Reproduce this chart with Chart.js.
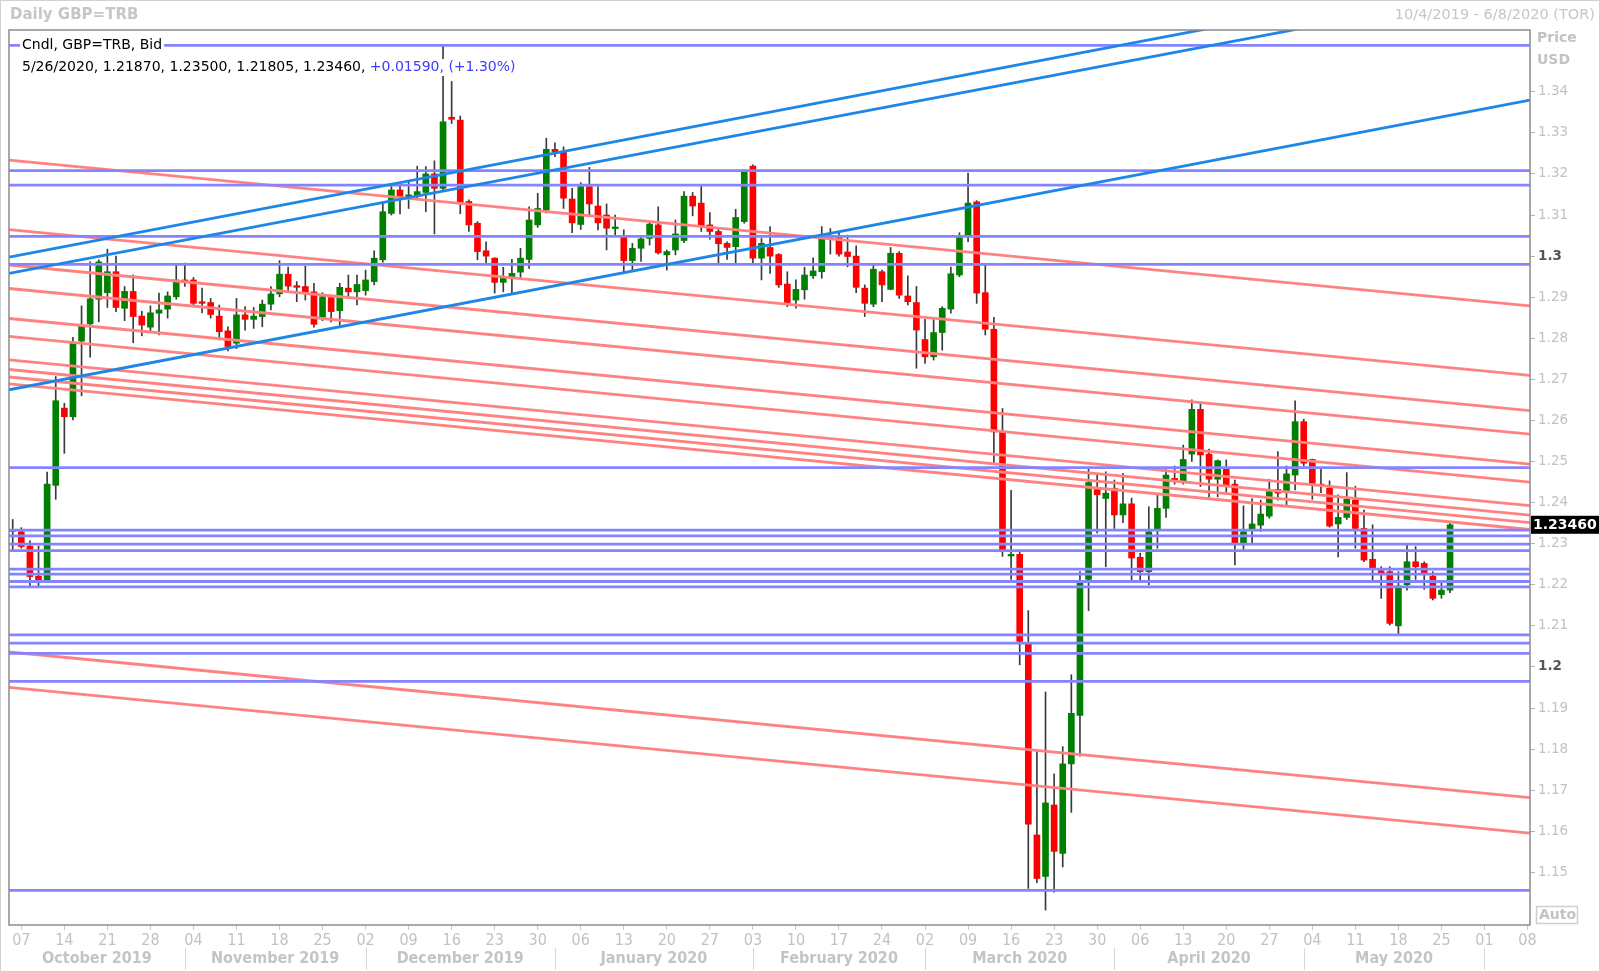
<!DOCTYPE html>
<html>
<head>
<meta charset="utf-8">
<title>Daily GBP=TRB</title>
<script src="https://cdn.jsdelivr.net/npm/chart.js@4.4.1/dist/chart.umd.min.js"></script>
<style>
    html, body { margin: 0; padding: 0; background: #fff; }
    #wrap { width: 1600px; height: 972px; }
</style>
</head>
<body>
<div id="wrap"><canvas id="fxChart" width="1600" height="972"></canvas></div>
<script>
// slot 0 = Mon 07 Oct 2019, one slot per weekday; first candle is Fri 04 Oct
const firstSlot = -1;

const opens = [
    1.2334, 1.2329, 1.2294, 1.2221, 1.2210, 1.2442, 1.2630, 1.2609, 1.2793, 1.2835,
    1.2895, 1.2911, 1.2962, 1.2873, 1.2914, 1.2854, 1.2827, 1.2861, 1.2871, 1.2901,
    1.2942, 1.2942, 1.2888, 1.2887, 1.2854, 1.2818, 1.2788, 1.2857, 1.2846, 1.2853,
    1.2883, 1.2908, 1.2956, 1.2928, 1.2926, 1.2913, 1.2851, 1.2899, 1.2867, 1.2922,
    1.2913, 1.2916, 1.2938, 1.2991, 1.3104, 1.3161, 1.3145, 1.3147, 1.3155, 1.3200,
    1.3165, 1.3338, 1.3331, 1.3133, 1.3080, 1.3013, 1.2995, 1.2936, 1.2946, 1.2961,
    1.2992, 1.3076, 1.3112, 1.3260, 1.3254, 1.3139, 1.3077, 1.3169, 1.3122, 1.3100,
    1.3068, 1.3046, 1.2989, 1.3019, 1.3043, 1.3076, 1.3003, 1.3015, 1.3038, 1.3146,
    1.3129, 1.3076, 1.3060, 1.3031, 1.3023, 1.3084, 1.3219, 1.2995, 1.3021, 1.3004,
    1.2932, 1.2893, 1.2918, 1.2952, 1.2962, 1.3041, 1.3046, 1.3010, 1.3000, 1.2922,
    1.2883, 1.2962, 1.2919, 1.3007, 1.2903, 1.2887, 1.2797, 1.2755, 1.2814, 1.2871,
    1.2954, 1.3051, 1.3132, 1.2911, 1.2822, 1.2572, 1.2270, 1.2274, 1.2057, 1.1591,
    1.1490, 1.1664, 1.1546, 1.1764, 1.1882, 1.2213, 1.2432, 1.2410, 1.2435, 1.2370,
    1.2397, 1.2267, 1.2232, 1.2333, 1.2386, 1.2459, 1.2451, 1.2518, 1.2627, 1.2518,
    1.2457, 1.2481, 1.2445, 1.2299, 1.2335, 1.2345, 1.2367, 1.2432, 1.2429, 1.2467,
    1.2597, 1.2505, 1.2445, 1.2435, 1.2348, 1.2364, 1.2406, 1.2337, 1.2262, 1.2234,
    1.2232, 1.2100, 1.2200, 1.2256, 1.2252, 1.2221, 1.2176, 1.2187
];
const highs = [
    1.2359, 1.2339, 1.2307, 1.2294, 1.2474, 1.2707, 1.2642, 1.2802, 1.2879, 1.2986,
    1.2991, 1.3017, 1.3000, 1.2926, 1.2954, 1.2866, 1.2879, 1.2910, 1.2913, 1.2978,
    1.2983, 1.2948, 1.2922, 1.2897, 1.2881, 1.2828, 1.2897, 1.2877, 1.2875, 1.2893,
    1.2926, 1.2989, 1.2973, 1.2938, 1.2976, 1.2934, 1.2911, 1.2905, 1.2934, 1.2954,
    1.2954, 1.2966, 1.3013, 1.3129, 1.3173, 1.3171, 1.3181, 1.3219, 1.3218, 1.3232,
    1.3512, 1.3425, 1.3341, 1.3137, 1.3084, 1.3035, 1.2996, 1.2973, 1.2992, 1.3019,
    1.3120, 1.3153, 1.3287, 1.3276, 1.3266, 1.3165, 1.3179, 1.3216, 1.3169, 1.3127,
    1.3100, 1.3064, 1.3031, 1.3047, 1.3084, 1.3120, 1.3015, 1.3088, 1.3157, 1.3155,
    1.3171, 1.3106, 1.3068, 1.3035, 1.3114, 1.3210, 1.3222, 1.3043, 1.3072, 1.3006,
    1.2962, 1.2942, 1.2973, 1.2996, 1.3072, 1.3067, 1.3056, 1.3051, 1.3025, 1.2930,
    1.2978, 1.2966, 1.3021, 1.3011, 1.2952, 1.2926, 1.2846, 1.2846, 1.2877, 1.2973,
    1.3057, 1.3202, 1.3135, 1.2978, 1.2851, 1.2629, 1.2430, 1.2279, 1.2137, 1.1797,
    1.1939, 1.1740, 1.1806, 1.1981, 1.2232, 1.2485, 1.2467, 1.2475, 1.2455, 1.2471,
    1.2411, 1.2277, 1.2390, 1.2419, 1.2481, 1.2489, 1.2540, 1.2650, 1.2643, 1.2530,
    1.2504, 1.2504, 1.2455, 1.2392, 1.2410, 1.2406, 1.2457, 1.2524, 1.2489, 1.2648,
    1.2603, 1.2506, 1.2481, 1.2453, 1.2419, 1.2473, 1.2440, 1.2382, 1.2346, 1.2244,
    1.2244, 1.2232, 1.2297, 1.2293, 1.2256, 1.2232, 1.2204, 1.2350
];
const lows = [
    1.2285, 1.2289, 1.2197, 1.2197, 1.2205, 1.2408, 1.2520, 1.2601, 1.2660, 1.2754,
    1.2840, 1.2875, 1.2865, 1.2843, 1.2789, 1.2806, 1.2814, 1.2808, 1.2849, 1.2895,
    1.2926, 1.2879, 1.2862, 1.2849, 1.2796, 1.2769, 1.2775, 1.2820, 1.2824, 1.2828,
    1.2869, 1.2901, 1.2913, 1.2889, 1.2893, 1.2827, 1.2843, 1.2840, 1.2832, 1.2897,
    1.2881, 1.2905, 1.2930, 1.2985, 1.3100, 1.3103, 1.3116, 1.3137, 1.3108, 1.3054,
    1.3160, 1.3323, 1.3103, 1.3060, 1.2991, 1.2982, 1.2910, 1.2913, 1.2910, 1.2948,
    1.2970, 1.3070, 1.3105, 1.3242, 1.3116, 1.3057, 1.3065, 1.3100, 1.3064, 1.3015,
    1.3050, 1.2958, 1.2962, 1.2987, 1.3027, 1.3005, 1.2966, 1.3003, 1.3033, 1.3098,
    1.3060, 1.3041, 1.2984, 1.2992, 1.2978, 1.3080, 1.2983, 1.2942, 1.2958, 1.2924,
    1.2877, 1.2873, 1.2895, 1.2946, 1.2946, 1.3005, 1.3000, 1.2974, 1.2911, 1.2853,
    1.2877, 1.2889, 1.2918, 1.2897, 1.2881, 1.2727, 1.2739, 1.2747, 1.2771, 1.2861,
    1.2950, 1.3035, 1.2885, 1.2808, 1.2496, 1.2269, 1.2213, 1.2005, 1.1461, 1.1475,
    1.1408, 1.1452, 1.1513, 1.1646, 1.1783, 1.2137, 1.2326, 1.2244, 1.2337, 1.2351,
    1.2212, 1.2205, 1.2200, 1.2289, 1.2364, 1.2445, 1.2445, 1.2500, 1.2439, 1.2414,
    1.2414, 1.2423, 1.2248, 1.2283, 1.2299, 1.2330, 1.2362, 1.2406, 1.2394, 1.2431,
    1.2489, 1.2408, 1.2424, 1.2340, 1.2268, 1.2359, 1.2289, 1.2256, 1.2212, 1.2167,
    1.2102, 1.2080, 1.2187, 1.2213, 1.2189, 1.2163, 1.2167, 1.21805
];
const closes = [
    1.2330, 1.2293, 1.2220, 1.2210, 1.2445, 1.2648, 1.2609, 1.2789, 1.2831, 1.2896,
    1.2986, 1.2962, 1.2875, 1.2914, 1.2853, 1.2832, 1.2862, 1.2869, 1.2903, 1.2942,
    1.2936, 1.2885, 1.2886, 1.2858, 1.2816, 1.2780, 1.2857, 1.2846, 1.2854, 1.2883,
    1.2908, 1.2956, 1.2927, 1.2924, 1.2910, 1.2834, 1.2901, 1.2865, 1.2924, 1.2913,
    1.2931, 1.2942, 1.2995, 1.3108, 1.3161, 1.3145, 1.3149, 1.3157, 1.3200, 1.3165,
    1.3327, 1.3333, 1.3129, 1.3076, 1.3011, 1.3000, 1.2936, 1.2950, 1.2958, 1.2995,
    1.3088, 1.3116, 1.3260, 1.3254, 1.3141, 1.3081, 1.3169, 1.3127, 1.3081, 1.3068,
    1.3070, 1.2989, 1.3019, 1.3042, 1.3078, 1.3008, 1.3011, 1.3054, 1.3146, 1.3122,
    1.3073, 1.3060, 1.3030, 1.3021, 1.3094, 1.3206, 1.2995, 1.3031, 1.3000, 1.2930,
    1.2887, 1.2919, 1.2954, 1.2964, 1.3043, 1.3045, 1.3005, 1.2999, 1.2924, 1.2885,
    1.2968, 1.2930, 1.3007, 1.2905, 1.2889, 1.2820, 1.2755, 1.2814, 1.2873, 1.2957,
    1.3046, 1.3129, 1.2910, 1.2822, 1.2572, 1.2284, 1.2274, 1.2062, 1.1617, 1.1485,
    1.1669, 1.1551, 1.1764, 1.1887, 1.2205, 1.2449, 1.2419, 1.2423, 1.2370, 1.2397,
    1.2265, 1.2232, 1.2329, 1.2386, 1.2467, 1.2453, 1.2505, 1.2627, 1.2516, 1.2457,
    1.2502, 1.2443, 1.2299, 1.2329, 1.2348, 1.2372, 1.2427, 1.2423, 1.2470, 1.2597,
    1.2496, 1.2447, 1.2441, 1.2343, 1.2364, 1.2408, 1.2337, 1.2260, 1.2240, 1.2229,
    1.2106, 1.2197, 1.2256, 1.2244, 1.2229, 1.2167, 1.2187, 1.2346
];
const lastDate = '5/26/2020';

// axes
const dayTickSlots = [0, 5, 10, 15, 20, 25, 30, 35, 40, 45, 50, 55, 60, 65, 70, 75, 80, 85,
    90, 95, 100, 105, 110, 115, 120, 125, 130, 135, 140, 145, 150, 155, 160, 165, 170, 175];
const dayTickLabels = ['07', '14', '21', '28', '04', '11', '18', '25', '02', '09', '16', '23', '30',
    '06', '13', '20', '27', '03', '10', '17', '24', '02', '09', '16', '23', '30',
    '06', '13', '20', '27', '04', '11', '18', '25', '01', '08'];
const monthStartSlots = [19, 40, 62, 85, 105, 127, 149, 170];
const monthLabels = ['October 2019', 'November 2019', 'December 2019', 'January 2020',
    'February 2020', 'March 2020', 'April 2020', 'May 2020'];
const priceTicks = [1.15, 1.16, 1.17, 1.18, 1.19, 1.20, 1.21, 1.22, 1.23, 1.24,
    1.25, 1.26, 1.27, 1.28, 1.29, 1.30, 1.31, 1.32, 1.33, 1.34];
const xMin = -1.43, xMax = 175.29;
const yMin = 1.13718, yMax = 1.35504;

// drawn studies: horizontal levels, red channel lines, blue trend lines (prices at left / right edge)
const hLevels = [1.3513, 1.3208, 1.3173, 1.3048, 1.2980, 1.2485, 1.2333, 1.2319, 1.2299, 1.2283,
    1.2238, 1.2226, 1.2208, 1.2195, 1.2078, 1.2058, 1.2033, 1.1965, 1.1456];
const redLeft = [1.32335, 1.30646, 1.29784, 1.29212, 1.28482, 1.28044, 1.27472, 1.27240, 1.27058, 1.26892, 1.20364, 1.19500];
const redRight = [1.28788, 1.27099, 1.26237, 1.25665, 1.24935, 1.24497, 1.23925, 1.23693, 1.23511, 1.23345, 1.16817, 1.15953];
const blueLeft = [1.29976, 1.29577, 1.26746];
const blueRight = [1.37031, 1.36599, 1.33800];

const UP = '#008000', DOWN = '#ff0000';
const AXIS_GREY = '#c2c2c2';

const slots = opens.map((_, i) => firstSlot + i);
const wickData = slots.map((s, i) => ({ x: s, y: [lows[i], highs[i]] }));
const bodyData = slots.map((s, i) => {
    let lo = Math.min(opens[i], closes[i]);
    let hi = Math.max(opens[i], closes[i]);
    if (hi - lo < 0.0004) {
        const m = (hi + lo) / 2;
        lo = m - 0.0002;
        hi = m + 0.0002;
    }
    return { x: s, y: [lo, hi] };
});
const bodyColors = slots.map((s, i) => closes[i] >= opens[i] ? UP : DOWN);

function studyLine(p0, p1, color, order) {
    return {
        type: 'line',
        data: [{ x: xMin, y: p0 }, { x: xMax, y: p1 }],
        borderColor: color,
        borderWidth: 2.8,
        pointRadius: 0,
        fill: false,
        order: order,
        clip: 0
    };
}

const datasets = [];
blueLeft.forEach((p, i) => datasets.push(studyLine(p, blueRight[i], 'rgb(30,134,230)', 0)));
hLevels.forEach(p => datasets.push(studyLine(p, p, 'rgb(132,132,255)', 1)));
redLeft.forEach((p, i) => datasets.push(studyLine(p, redRight[i], 'rgb(255,130,130)', 2)));
datasets.push({
    type: 'bar', data: bodyData, backgroundColor: bodyColors, borderWidth: 0,
    barThickness: 6, grouped: false, order: 3
});
datasets.push({
    type: 'bar', data: wickData, backgroundColor: '#3a3a3a', borderWidth: 0,
    barThickness: 1, grouped: false, order: 4
});

const isRound = v => Math.abs(v - 1.2) < 1e-6 || Math.abs(v - 1.3) < 1e-6;
const tickIsRound = ctx => !!(ctx && ctx.tick && isRound(ctx.tick.value));

const overlay = {
    id: 'overlay',
    beforeDraw(chart) {
        const c = chart.ctx;
        c.save();
        c.fillStyle = '#fff';
        c.fillRect(0, 0, chart.width, chart.height);
        c.restore();
    },
    afterDraw(chart) {
        const c = chart.ctx;
        const area = chart.chartArea;
        const xs = chart.scales.x;
        const ys = chart.scales.y;
        const last = closes.length - 1;
        c.save();

        // outer frame and plot frame
        c.strokeStyle = '#d2d2d2';
        c.lineWidth = 1;
        c.strokeRect(0.5, 0.5, chart.width - 1, chart.height - 1);
        c.strokeStyle = '#8c8c8c';
        c.lineWidth = 1.5;
        c.strokeRect(area.left, area.top, area.right - area.left, area.bottom - area.top);

        // header
        c.textBaseline = 'middle';
        c.fillStyle = '#c6c6c6';
        c.font = 'bold 15px "DejaVu Sans"';
        c.textAlign = 'left';
        c.fillText('Daily GBP=TRB', 10, 15);
        c.font = '14.5px "DejaVu Sans"';
        c.textAlign = 'right';
        c.fillText('10/4/2019 - 6/8/2020 (TOR)', 1595, 15);

        // legend text
        c.textAlign = 'left';
        c.font = '14px "DejaVu Sans"';
        const line1 = 'Cndl, GBP=TRB, Bid';
        const chg = closes[last] - closes[last - 1];
        const pct = chg / closes[last - 1] * 100;
        const sign = chg >= 0 ? '+' : '-';
        const part1 = lastDate + ', ' + opens[last].toFixed(5) + ', ' + highs[last].toFixed(5) + ', ' +
            lows[last].toFixed(5) + ', ' + closes[last].toFixed(5) + ', ';
        const part2 = sign + Math.abs(chg).toFixed(5) + ', (' + sign + Math.abs(pct).toFixed(2) + '%)';
        const w1 = c.measureText(line1).width;
        const wa = c.measureText(part1).width;
        const wb = c.measureText(part2).width;
        c.fillStyle = '#fff';
        c.fillRect(20, 37, w1 + 4, 17);
        c.fillRect(20, 59, wa + wb + 4, 17);
        c.fillStyle = '#000';
        c.fillText(line1, 22, 45.5);
        c.fillText(part1, 22, 67.5);
        c.fillStyle = '#3c3cff';
        c.fillText(part2, 22 + wa, 67.5);

        // price axis header
        c.fillStyle = '#c2c2c2';
        c.font = 'bold 14px "DejaVu Sans"';
        c.fillText('Price', 1537, 38);
        c.fillText('USD', 1537, 60);

        // last price box
        const py = ys.getPixelForValue(closes[last]);
        c.fillStyle = '#000';
        c.fillRect(area.right + 1, py - 9, chart.width - area.right - 2, 18);
        c.fillStyle = '#fff';
        c.font = 'bold 14px "DejaVu Sans"';
        c.fillText(closes[last].toFixed(5), area.right + 3, py + 0.5);

        // Auto box
        c.strokeStyle = '#cfcfcf';
        c.lineWidth = 1.5;
        c.strokeRect(1536.5, 906.5, 41, 17);
        c.fillStyle = '#c2c2c2';
        c.fillText('Auto', 1539, 915.5);

        // month row
        c.strokeStyle = '#d6d6d6';
        c.lineWidth = 1;
        monthStartSlots.forEach(s => {
            const x = Math.round(xs.getPixelForValue(s)) + 0.5;
            c.beginPath();
            c.moveTo(x, 948);
            c.lineTo(x, 970);
            c.stroke();
        });
        c.font = 'bold 16px "Liberation Sans Narrow", "DejaVu Sans Condensed", "DejaVu Sans"';
        c.textAlign = 'center';
        c.fillStyle = '#c4c4c4';
        monthLabels.forEach((m, i) => {
            const x0 = i === 0 ? area.left : xs.getPixelForValue(monthStartSlots[i - 1]);
            const x1 = xs.getPixelForValue(monthStartSlots[i]);
            c.fillText(m, (x0 + x1) / 2, 959);
        });
        c.restore();
    }
};

const chart = new Chart(document.getElementById('fxChart').getContext('2d'), {
    type: 'bar',
    data: { datasets: datasets },
    options: {
        responsive: false,
        devicePixelRatio: 1,
        animation: false,
        events: [],
        layout: { padding: { left: 9, top: 30, right: 0, bottom: 0 } },
        plugins: {
            legend: { display: false },
            tooltip: { enabled: false }
        },
        scales: {
            x: {
                type: 'linear',
                min: xMin,
                max: xMax,
                offset: false,
                afterBuildTicks: scale => { scale.ticks = dayTickSlots.map(v => ({ value: v })); },
                afterFit: scale => { scale.height = 47; },
                border: { display: false },
                grid: { drawOnChartArea: false, drawTicks: true, tickLength: 5, offset: false, color: '#c8c8c8' },
                ticks: {
                    autoSkip: false,
                    maxRotation: 0,
                    padding: 1,
                    color: AXIS_GREY,
                    font: { family: '"Liberation Sans Narrow", "DejaVu Sans Condensed", "DejaVu Sans"', size: 16 },
                    callback: (value, index) => dayTickLabels[index]
                }
            },
            y: {
                position: 'right',
                min: yMin,
                max: yMax,
                afterBuildTicks: scale => { scale.ticks = priceTicks.map(v => ({ value: v })); },
                afterFit: scale => { scale.width = 70; },
                border: { display: false },
                grid: { drawOnChartArea: false, drawTicks: true, tickLength: 5, color: '#b4b4b4' },
                ticks: {
                    autoSkip: false,
                    padding: 3,
                    color: ctx => tickIsRound(ctx) ? '#555' : AXIS_GREY,
                    font: ctx => ({
                        family: '"DejaVu Sans"',
                        size: 13.5,
                        weight: tickIsRound(ctx) ? 'bold' : 'normal'
                    }),
                    callback: value => String(+Number(value).toFixed(2))
                }
            }
        }
    },
    plugins: [overlay]
});
</script>
</body>
</html>
